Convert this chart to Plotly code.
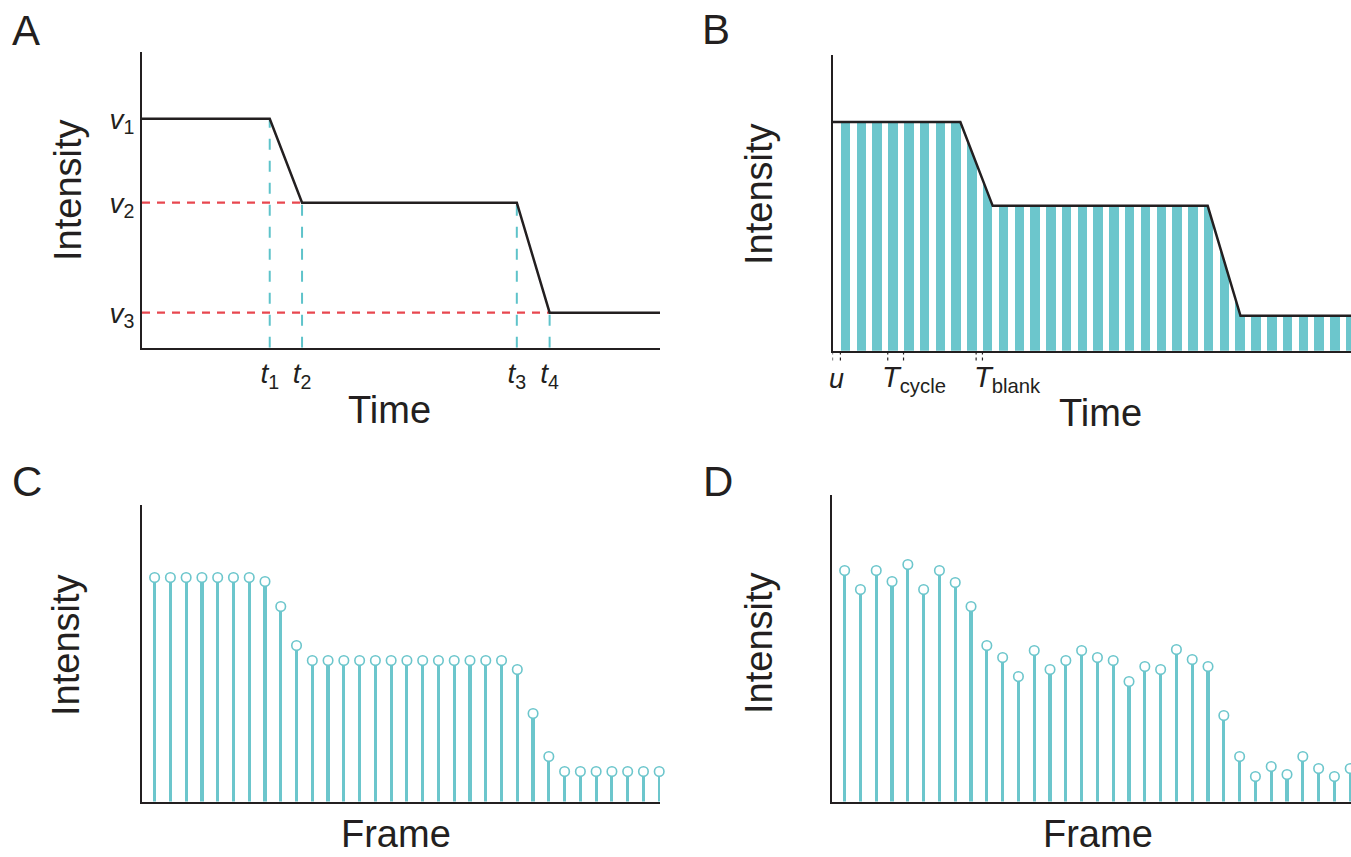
import plotly.graph_objects as go

# ---------------- data ----------------
# Panel A / B : piecewise-linear intensity profile (time in frame-cycle units)
t_knots = [0.0, 8.1, 10.15, 23.77, 25.85, 32.85]
v_knots = [229, 229, 145, 145, 35, 35]
t_ticks = [8.1, 10.15, 23.77, 25.85]
t_ticktext = ["<i>t</i><sub>1</sub>", "<i>t</i><sub>2</sub>",
              "<i>t</i><sub>3</sub>", "<i>t</i><sub>4</sub>"]
v_ticks = [229, 145, 35]
v_ticktext = ["<i>v</i><sub>1</sub>", "<i>v</i><sub>2</sub>", "<i>v</i><sub>3</sub>"]

# Panel B : acquisition timing
u_offset = 0.5       # delay before first exposure
t_cycle = 1.0        # frame cycle
t_exposure = 0.6     # exposure part of a cycle
n_frames = 33

# Panel C : noiseless frame intensities
frame_c = [224, 224, 224, 224, 224, 224, 224, 220, 195, 156,
           141, 141, 141, 141, 141, 141, 141, 141, 141, 141, 141, 141, 141,
           132, 88, 45,
           30, 30, 30, 30, 30, 30, 30]
# Panel D : noisy frame intensities
frame_d = [231, 212, 231, 220, 237, 212, 231, 219, 195, 156,
           144, 125, 151, 132, 141, 151, 144, 141, 120, 135, 132, 152, 142, 135,
           86, 45, 25, 35, 27, 45, 33, 25, 33]

# ---------------- styling ----------------
TEAL = "#6cc6cc"
CYAN_D = "#5ec3ca"
RED = "#e8474f"
INK = "#231f20"
FONT = "Liberation Sans, Arial, Helvetica, sans-serif"
W, H = 1351, 857
Y_TOP = 296  # top of intensity axes (A, B)


def px(x):
    return x / W


def py(y):
    return 1 - y / H


frame_x = [k + u_offset + 0.3 for k in range(n_frames)]  # frame centres

fig = go.Figure()

# ---- Panel A ----
fig.add_trace(go.Scatter(x=[0, t_knots[2]], y=[v_knots[2]] * 2, mode="lines",
                         line=dict(color=RED, width=2.2, dash="8px,7px"),
                         xaxis="x", yaxis="y", hoverinfo="skip"))
fig.add_trace(go.Scatter(x=[0, t_knots[4]], y=[v_knots[4]] * 2, mode="lines",
                         line=dict(color=RED, width=2.2, dash="8px,7px"),
                         xaxis="x", yaxis="y", hoverinfo="skip"))
for i in range(1, 5):
    fig.add_trace(go.Scatter(x=[t_knots[i]] * 2, y=[0, v_knots[i]], mode="lines",
                             line=dict(color=CYAN_D, width=2, dash="11px,11px"),
                             xaxis="x", yaxis="y", hoverinfo="skip"))
fig.add_trace(go.Scatter(x=t_knots, y=v_knots, mode="lines",
                         line=dict(color=INK, width=2.5),
                         xaxis="x", yaxis="y", hoverinfo="skip"))

# ---- Panel B ----
# exposure windows as teal bars
exp_x = [u_offset + k * t_cycle + t_exposure / 2 for k in range(n_frames)]
fig.add_trace(go.Bar(x=exp_x, y=[max(v_knots)] * n_frames, width=t_exposure,
                     marker=dict(color=TEAL, line=dict(width=0)),
                     xaxis="x2", yaxis="y2", hoverinfo="skip"))
# mask everything above the intensity profile in white
fig.add_trace(go.Scatter(x=t_knots, y=[Y_TOP] * len(t_knots), mode="lines",
                         line=dict(width=0, color="white"),
                         xaxis="x2", yaxis="y2", hoverinfo="skip"))
fig.add_trace(go.Scatter(x=t_knots, y=v_knots, mode="lines", fill="tonexty",
                         fillcolor="white", line=dict(width=0, color="white"),
                         xaxis="x2", yaxis="y2", hoverinfo="skip"))
fig.add_trace(go.Scatter(x=t_knots, y=v_knots, mode="lines",
                         line=dict(color=INK, width=2.5),
                         xaxis="x2", yaxis="y2", hoverinfo="skip"))

# ---- Panel C ----
fig.add_trace(go.Bar(x=frame_x, y=frame_c, width=0.2,
                     marker=dict(color=TEAL, line=dict(width=0)),
                     xaxis="x3", yaxis="y3", hoverinfo="skip"))
fig.add_trace(go.Scatter(x=frame_x, y=frame_c, mode="markers",
                         marker=dict(symbol="circle", size=9.5, color="white",
                                     line=dict(color=TEAL, width=1.6)),
                         cliponaxis=False, xaxis="x3", yaxis="y3", hoverinfo="skip"))

# ---- Panel D ----
fig.add_trace(go.Bar(x=frame_x, y=frame_d, width=0.2,
                     marker=dict(color=TEAL, line=dict(width=0)),
                     xaxis="x4", yaxis="y4", hoverinfo="skip"))
fig.add_trace(go.Scatter(x=frame_x, y=frame_d, mode="markers",
                         marker=dict(symbol="circle", size=9.5, color="white",
                                     line=dict(color=TEAL, width=1.6)),
                         cliponaxis=False, xaxis="x4", yaxis="y4", hoverinfo="skip"))

# ---------------- axes ----------------
base_ax = dict(showline=True, linecolor=INK, linewidth=2, showgrid=False,
               zeroline=False, ticks="", mirror=False)
tickfont = dict(family=FONT, size=28, color=INK)

fig.update_layout(
    xaxis=dict(**base_ax, domain=[px(142), px(660)], range=[0, 32.85], anchor="y",
               tickvals=t_ticks, ticktext=t_ticktext, tickfont=tickfont),
    yaxis=dict(**base_ax, domain=[py(347.7), py(51.7)], range=[0, Y_TOP], anchor="x",
               tickvals=v_ticks, ticktext=v_ticktext, tickfont=tickfont),
    xaxis2=dict(**base_ax, domain=[px(832.5), 1.0], range=[0, 32.85], anchor="y2",
                showticklabels=False),
    yaxis2=dict(**base_ax, domain=[py(350.7), py(55)], range=[0, Y_TOP], anchor="x2",
                showticklabels=False),
    xaxis3=dict(**base_ax, domain=[px(142), px(660)], range=[0, 32.85], anchor="y3",
                showticklabels=False),
    yaxis3=dict(**base_ax, domain=[py(801.5), py(505)], range=[0, 296.5], anchor="x3",
                showticklabels=False),
    xaxis4=dict(**base_ax, domain=[px(832), 1.0], range=[0, 32.85], anchor="y4",
                showticklabels=False),
    yaxis4=dict(**base_ax, domain=[py(801.5), py(495)], range=[0, 306.5], anchor="x4",
                showticklabels=False),
    width=W, height=H, autosize=False,
    margin=dict(l=0, r=0, t=0, b=0),
    paper_bgcolor="white", plot_bgcolor="white",
    showlegend=False, bargap=0,
    font=dict(family=FONT, color=INK),
)

# ---------------- text ----------------
ann = []
for letter, x, y in [("A", 26, 31), ("B", 716, 30), ("C", 27, 481), ("D", 718, 481)]:
    ann.append(dict(text=letter, x=px(x), y=py(y), xref="paper", yref="paper",
                    showarrow=False, xanchor="center", yanchor="middle",
                    font=dict(family=FONT, size=42, color=INK)))
for x, y in [(68, 190), (759, 194), (66, 645), (759, 643)]:
    ann.append(dict(text="Intensity", x=px(x), y=py(y), xref="paper", yref="paper",
                    showarrow=False, textangle=-90, xanchor="center", yanchor="middle",
                    font=dict(family=FONT, size=38, color=INK)))
for txt, x, y in [("Time", 389, 410), ("Time", 1100, 413)]:
    ann.append(dict(text=txt, x=px(x), y=py(y), xref="paper", yref="paper",
                    showarrow=False, xanchor="center", yanchor="middle",
                    font=dict(family=FONT, size=38, color=INK)))
for txt, x in [("Frame", 396), ("Frame", 1098)]:
    ann.append(dict(text=txt, x=px(x), y=0, xref="paper", yref="paper",
                    showarrow=False, xanchor="center", yanchor="bottom",
                    font=dict(family=FONT, size=38, color=INK)))

# timing labels in panel B
ann.append(dict(text="<i>u</i>", x=u_offset / 2, y=py(379), xref="x2", yref="paper",
                showarrow=False, xanchor="center", yanchor="middle",
                font=dict(family=FONT, size=27, color=INK)))
ann.append(dict(text="<i>T</i><sub>cycle</sub>", x=u_offset + 3 * t_cycle, y=py(359),
                xref="x2", yref="paper", xshift=-8,
                showarrow=False, xanchor="left", yanchor="top",
                font=dict(family=FONT, size=29, color=INK)))
ann.append(dict(text="<i>T</i><sub>blank</sub>",
                x=u_offset + 8 * t_cycle + t_exposure, y=py(359),
                xref="x2", yref="paper", xshift=-4,
                showarrow=False, xanchor="left", yanchor="top",
                font=dict(family=FONT, size=29, color=INK)))
fig.update_layout(annotations=ann)

# dotted markers below panel B
shapes = []
for xv in [0, u_offset,
           u_offset + 3 * t_cycle, u_offset + 4 * t_cycle,
           u_offset + 8 * t_cycle + t_exposure, u_offset + 9 * t_cycle]:
    shapes.append(dict(type="line", xref="x2", yref="paper", x0=xv, x1=xv,
                       y0=py(351.5), y1=py(363),
                       line=dict(color=INK, width=1.2, dash="dot")))
fig.update_layout(shapes=shapes)

fig.write_html("out.html", config={"displayModeBar": False},
               post_script="document.body.style.margin='0';document.body.style.overflow='hidden';")
